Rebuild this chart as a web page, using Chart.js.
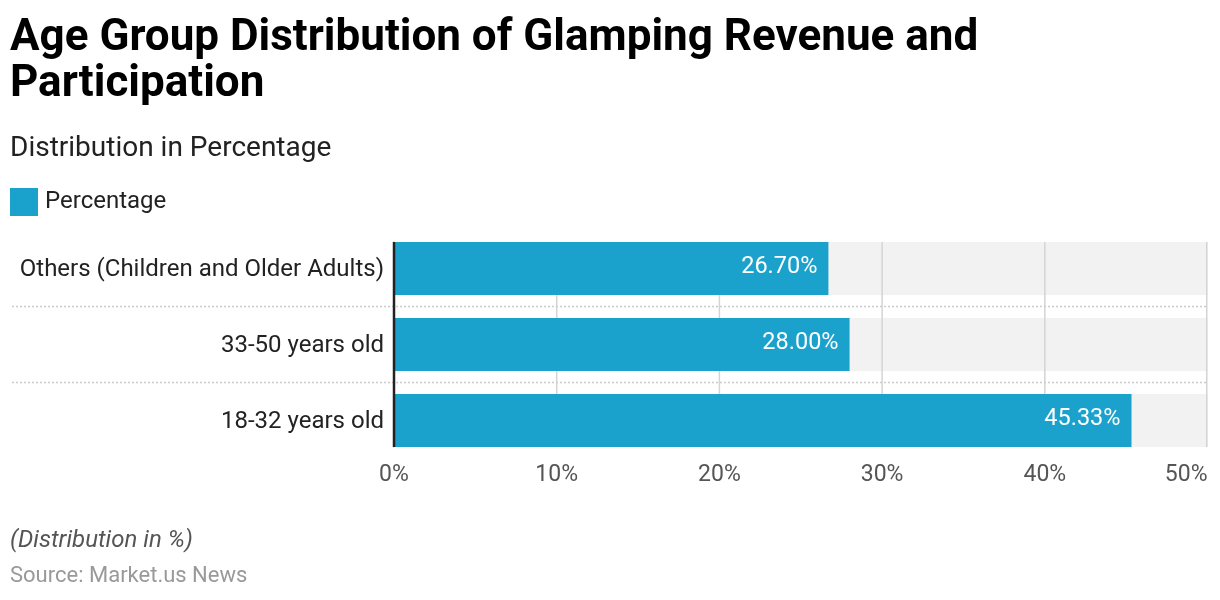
<!DOCTYPE html>
<html>
<head>
<meta charset="utf-8">
<script src="https://cdn.jsdelivr.net/npm/chart.js@4"></script>
<style>
    body { margin: 0; background: #fff; font-family: Roboto, sans-serif; }
    #wrap { position: relative; width: 1220px; height: 600px; overflow: hidden; }
    #chart { position: absolute; left: 0; top: 0; }
    .txt { position: absolute; left: 10px; white-space: nowrap; }
    #title { top: 12px; font-size: 44px; line-height: 46px; font-weight: 700; color: #000; }
    #subtitle { top: 131px; font-size: 28px; line-height: 32px; color: #222; }
    #legend { top: 186px; font-size: 24px; line-height: 28px; color: #222; }
    #legend span { display: inline-block; width: 28px; height: 28px; background: #1aa1cc; vertical-align: top; margin: 2px 7px 0 0; }
    #note { top: 525px; font-size: 24px; line-height: 28px; font-style: italic; color: #555; }
    #source { top: 562px; font-size: 22px; line-height: 26px; color: #999; }
</style>
</head>
<body>
<div id="wrap">
    <canvas id="chart" width="1220" height="600"></canvas>
    <div class="txt" id="title">Age Group Distribution of Glamping Revenue and<br>Participation</div>
    <div class="txt" id="subtitle">Distribution in Percentage</div>
    <div class="txt" id="legend"><span></span>Percentage</div>
    <div class="txt" id="note">(Distribution in %)</div>
    <div class="txt" id="source">Source: Market.us News</div>
</div>
<script>
    const categories = ["Others (Children and Older Adults)", "33-50 years old", "18-32 years old"];
    const percentages = [26.70, 28.00, 45.33];
    const axisMax = 50;
    const axisStep = 10;

    const barColor = "#1aa1cc";
    const tickSize = 23;

    // grey track, grid and separators behind the bars
    const backdrop = {
        id: "backdrop",
        beforeDatasetsDraw(chart) {
            const ctx = chart.ctx;
            const x = chart.scales.x;
            const y = chart.scales.y;
            const bars = chart.getDatasetMeta(0).data;
            const x0 = x.getPixelForValue(0);
            const x1 = x.getPixelForValue(axisMax);
            ctx.save();
            ctx.fillStyle = "#f2f2f2";
            bars.forEach(bar => {
                ctx.fillRect(x0, bar.y - bar.height / 2, x1 - x0, bar.height);
            });
            const top = bars[0].y - bars[0].height / 2;
            const last = bars[bars.length - 1];
            const bottom = last.y + last.height / 2;
            ctx.strokeStyle = "#d4d4d4";
            ctx.lineWidth = 1.5;
            x.ticks.forEach(t => {
                if (t.value === 0) return;
                const px = Math.min(x.getPixelForValue(t.value), x1 - 0.75);
                ctx.beginPath();
                ctx.moveTo(px, top);
                ctx.lineTo(px, bottom);
                ctx.stroke();
            });
            ctx.strokeStyle = "#cccccc";
            ctx.lineWidth = 1.5;
            ctx.setLineDash([2, 2]);
            for (let i = 0; i < categories.length - 1; i++) {
                const py = (y.getPixelForValue(i) + y.getPixelForValue(i + 1)) / 2;
                ctx.beginPath();
                ctx.moveTo(12, py);
                ctx.lineTo(x1, py);
                ctx.stroke();
            }
            ctx.restore();
        },
        afterDatasetsDraw(chart) {
            const ctx = chart.ctx;
            const x = chart.scales.x;
            const bars = chart.getDatasetMeta(0).data;
            ctx.save();
            // value labels
            ctx.fillStyle = "#ffffff";
            ctx.font = "23.5px Roboto";
            ctx.textAlign = "right";
            ctx.textBaseline = "middle";
            bars.forEach((bar, i) => {
                ctx.fillText(percentages[i].toFixed(2) + "%", bar.x - 11, bar.y - 1);
            });
            // left axis line
            const x0 = x.getPixelForValue(0);
            const last = bars[bars.length - 1];
            ctx.strokeStyle = "#222";
            ctx.lineWidth = 2.5;
            ctx.beginPath();
            ctx.moveTo(x0, bars[0].y - bars[0].height / 2);
            ctx.lineTo(x0, last.y + last.height / 2);
            ctx.stroke();
            // last tick label sits inside the canvas
            ctx.fillStyle = "#555";
            ctx.font = tickSize + "px Roboto";
            ctx.fillText(axisMax + "%", x.getPixelForValue(axisMax), x.top + 3 + tickSize * 1.2 / 2);
            ctx.restore();
        }
    };

    new Chart(document.getElementById("chart"), {
        type: "bar",
        data: {
            labels: categories,
            datasets: [{
                label: "Percentage",
                data: percentages,
                backgroundColor: barColor,
                categoryPercentage: 1,
                barPercentage: 0.7
            }]
        },
        options: {
            indexAxis: "y",
            responsive: false,
            animation: false,
            events: [],
            layout: { padding: { top: 230.5, right: 12.5, bottom: 101.5, left: 0 } },
            plugins: { legend: { display: false }, tooltip: { enabled: false } },
            scales: {
                x: {
                    min: 0,
                    max: axisMax,
                    grid: { display: false, drawTicks: false },
                    border: { display: false },
                    ticks: {
                        stepSize: axisStep,
                        padding: 3,
                        font: { family: "Roboto", size: tickSize },
                        color: c => (c.tick && c.tick.value === axisMax) ? "rgba(0,0,0,0)" : "#555",
                        callback: v => v + "%"
                    },
                    afterFit(scale) {
                        scale.height = 40;
                        scale.paddingLeft = 0;
                        scale.paddingRight = 0;
                    }
                },
                y: {
                    grid: { display: false, drawTicks: false },
                    border: { display: false },
                    ticks: {
                        padding: 10,
                        labelOffset: 1,
                        font: { family: "Roboto", size: 24 },
                        color: "#222"
                    },
                    afterFit(scale) {
                        scale.width = 394;
                    }
                }
            }
        },
        plugins: [backdrop]
    });
</script>
</body>
</html>
